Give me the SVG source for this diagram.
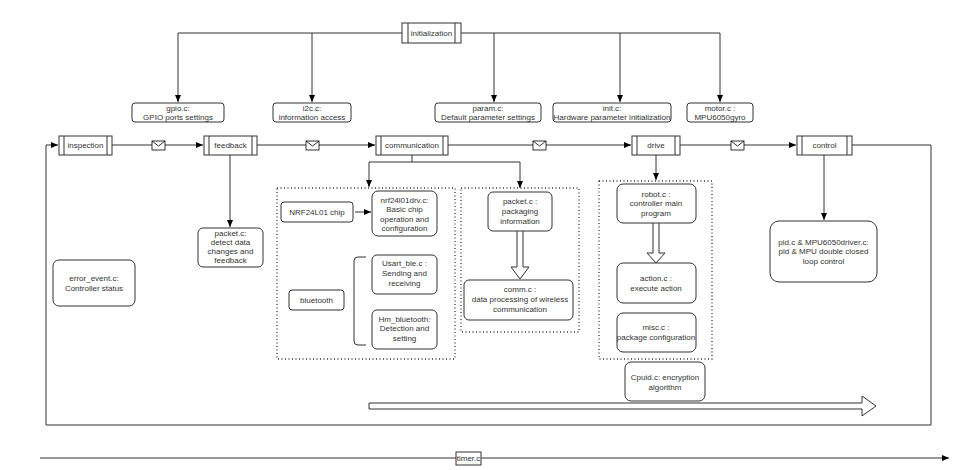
<svg xmlns="http://www.w3.org/2000/svg" width="971" height="470" viewBox="0 0 971 470">
<defs>
<marker id="ar" markerWidth="8" markerHeight="8" refX="7" refY="4" orient="auto" markerUnits="userSpaceOnUse"><path d="M0,1 L7,4 L0,7 Z" fill="#000"/></marker>
<g id="env"><rect x="0" y="0" width="13" height="9" fill="#fff" stroke="#000" stroke-width="0.8"/><path d="M0,0 L6.5,5 L13,0" fill="none" stroke="#000" stroke-width="0.8"/></g>
</defs>
<style>
text{font-family:"Liberation Sans",Arial,sans-serif;font-size:8px;fill:#333;text-anchor:middle}
.b{fill:#fff;stroke:#333;stroke-width:1}
.l{fill:none;stroke:#333;stroke-width:1}
.d{fill:none;stroke:#333;stroke-width:1.3;stroke-dasharray:1 2.5}
</style>
<rect width="971" height="470" fill="#fff"/>
<g id="connectors">
<path class="l" d="M402,33 H178 V102" marker-end="url(#ar)"/>
<path class="l" d="M312,33 V102" marker-end="url(#ar)"/>
<path class="l" d="M461,33 H720 V102" marker-end="url(#ar)"/>
<path class="l" d="M494,33 V102" marker-end="url(#ar)"/>
<path class="l" d="M620,33 V102" marker-end="url(#ar)"/>
<path class="l" d="M112,145 H203" marker-end="url(#ar)"/>
<path class="l" d="M257,145 H375" marker-end="url(#ar)"/>
<path class="l" d="M448,145 H631" marker-end="url(#ar)"/>
<path class="l" d="M680,145 H796" marker-end="url(#ar)"/>
<path class="l" d="M852,145 H931 V425 H46 V145 H58" marker-end="url(#ar)"/>
<path class="l" d="M230,155 V227" marker-end="url(#ar)"/>
<path class="l" d="M412,155 V162 H369 V187" marker-end="url(#ar)"/>
<path class="l" d="M412,162 H520 V188" marker-end="url(#ar)"/>
<path class="l" d="M656,155 V180" marker-end="url(#ar)"/>
<path class="l" d="M824,155 V220" marker-end="url(#ar)"/>
<path class="l" d="M355,212 H371" marker-end="url(#ar)"/>
<path class="l" d="M366,257 H358 Q354,257 354,261 V341 Q354,345 358,345 H366"/>
<path class="l" d="M517,231 V267 H511 L520,279 L529,267 H523 V231"/>
<path class="l" d="M653,223 V253 H647 L656,263 L665,253 H659 V223"/>
<path class="l" d="M369,403 H862 V396 L876,406 L862,416 V409 H369 Z"/>
<path class="l" d="M40,458 H949" marker-end="url(#ar)"/>
<use href="#env" x="152" y="141"/>
<use href="#env" x="306" y="141"/>
<use href="#env" x="533" y="141"/>
<use href="#env" x="731" y="141"/>
</g>
<rect class="d" x="277" y="188" width="178" height="171"/>
<rect class="d" x="461" y="188" width="118" height="144"/>
<rect class="d" x="599" y="181" width="113" height="178"/>
<g id="initialization"><rect class="b" x="402" y="23" width="59" height="20"/><path class="l" d="M408,23 V43 M455,23 V43"/><text x="431.5" y="36">initialization</text></g>
<g id="gpio"><rect class="b" x="132" y="103" width="92" height="19" rx="3"/><text x="178" y="111">gpio.c:</text><text x="178" y="120">GPIO ports settings</text></g>
<g id="i2c"><rect class="b" x="273" y="103" width="78" height="19" rx="3"/><text x="312" y="111">i2c.c:</text><text x="312" y="120">information access</text></g>
<g id="param"><rect class="b" x="435" y="103" width="106" height="19" rx="3"/><text x="488" y="111">param.c:</text><text x="488" y="120">Default parameter settings</text></g>
<g id="init"><rect class="b" x="553" y="103" width="118" height="19" rx="3"/><text x="612" y="111">init.c:</text><text x="612" y="120">Hardware parameter initialization</text></g>
<g id="motor"><rect class="b" x="687" y="103" width="66" height="19" rx="3"/><text x="720" y="111">motor.c :</text><text x="720" y="120">MPU6050gyro</text></g>
<g id="inspection"><rect class="b" x="59" y="136" width="53" height="19"/><path class="l" d="M64,136 V155 M107,136 V155"/><text x="85.5" y="148">inspection</text></g>
<g id="feedback"><rect class="b" x="204" y="136" width="53" height="19"/><path class="l" d="M209,136 V155 M252,136 V155"/><text x="230.5" y="148">feedback</text></g>
<g id="communication"><rect class="b" x="376" y="136" width="72" height="19"/><path class="l" d="M381,136 V155 M443,136 V155"/><text x="412" y="148">communication</text></g>
<g id="drive"><rect class="b" x="632" y="136" width="48" height="19"/><path class="l" d="M637,136 V155 M675,136 V155"/><text x="656" y="148">drive</text></g>
<g id="control"><rect class="b" x="797" y="136" width="55" height="19"/><path class="l" d="M802,136 V155 M847,136 V155"/><text x="824.5" y="148">control</text></g>
<g id="packet-feedback"><rect class="b" x="198" y="228" width="65" height="39" rx="5"/><text x="230.5" y="236">packet.c:</text><text x="230.5" y="245">detect data</text><text x="230.5" y="254">changes and</text><text x="230.5" y="263">feedback</text></g>
<g id="error-event"><rect class="b" x="53" y="260" width="82" height="46" rx="6"/><text x="94" y="281">error_event.c:</text><text x="94" y="291">Controller status</text></g>
<g id="nrf-chip"><rect class="b" x="281" y="202" width="72" height="20" rx="3"/><text x="317" y="215">NRF24L01 chip</text></g>
<g id="nrf24l01drv"><rect class="b" x="372" y="191" width="65" height="45" rx="6"/><text x="404.5" y="203">nrf24l01drv.c:</text><text x="404.5" y="212">Basic chip</text><text x="404.5" y="222">operation and</text><text x="404.5" y="231">configuration</text></g>
<g id="bluetooth"><rect class="b" x="289" y="290" width="55" height="20" rx="3"/><text x="316.5" y="303">bluetooth</text></g>
<g id="usart-ble"><rect class="b" x="372" y="255" width="65" height="39" rx="5"/><text x="404.5" y="266">Usart_ble.c :</text><text x="404.5" y="276">Sending and</text><text x="404.5" y="286">receiving</text></g>
<g id="hm-bluetooth"><rect class="b" x="372" y="310" width="65" height="39" rx="5"/><text x="404.5" y="322">Hm_bluetooth:</text><text x="404.5" y="331">Detection and</text><text x="404.5" y="341">setting</text></g>
<g id="packet-comm"><rect class="b" x="488" y="192" width="64" height="39" rx="5"/><text x="520" y="204">packet.c :</text><text x="520" y="214">packaging</text><text x="520" y="224">information</text></g>
<g id="comm"><rect class="b" x="464" y="280" width="109" height="40" rx="5"/><text x="520" y="292">comm.c :</text><text x="520" y="302">data processing of wireless</text><text x="520" y="312">communication</text></g>
<g id="robot"><rect class="b" x="617" y="184" width="79" height="39" rx="6"/><text x="656" y="197">robot.c :</text><text x="656" y="206">controller main</text><text x="656" y="216">program</text></g>
<g id="action"><rect class="b" x="617" y="263" width="79" height="40" rx="6"/><text x="656" y="281">action.c :</text><text x="656" y="291">execute action</text></g>
<g id="misc"><rect class="b" x="617" y="313" width="79" height="39" rx="6"/><text x="656" y="330">misc.c :</text><text x="656" y="340">package configuration</text></g>
<g id="cpuid"><rect class="b" x="625" y="362" width="80" height="39" rx="6"/><text x="665" y="380">Cpuid.c: encryption</text><text x="665" y="390">algorithm</text></g>
<g id="pid"><rect class="b" x="770" y="221" width="107" height="61" rx="9"/><text x="823.5" y="245">pid.c &amp; MPU6050driver.c:</text><text x="823.5" y="254">pid &amp; MPU double closed</text><text x="823.5" y="264">loop control</text></g>
<g id="timer"><rect class="b" x="456" y="452" width="25" height="13"/><text x="468.5" y="461">timer.c</text></g>
</svg>
